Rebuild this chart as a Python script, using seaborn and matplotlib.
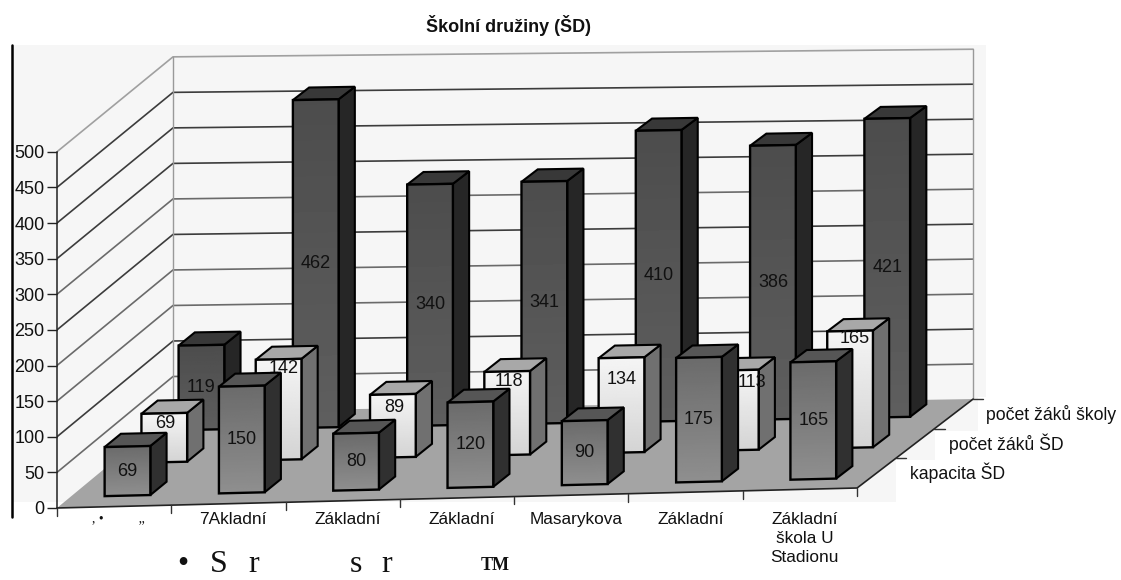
import numpy as np
import pandas as pd
import seaborn as sns
import matplotlib.pyplot as plt
from matplotlib.lines import Line2D
from matplotlib.patches import Polygon
from matplotlib.transforms import Affine2D

# values
schools = [', •          „', '7Akladní', 'Základní', 'Základní', 'Masarykova', 'Základní',
           'Základní\nškola U\nStadionu']
series_names = ['kapacita ŠD', 'počet žáků ŠD', 'počet žáků školy']
kapacita = [69, 150, 80, 120, 90, 175, 165]
pocet_sd = [69, 142, 89, 118, 134, 113, 165]
pocet_skoly = [119, 462, 340, 341, 410, 386, 421]
value_ticks = [0, 50, 100, 150, 200, 250, 300, 350, 400, 450, 500]

W, H = 1121, 580
PX_CAT = 114.3   # px per category
PX_VAL = 0.7125  # px per value unit

# where each row stands in the depth of the box (0 front, 1 back)
depths = [0.115, 0.45, 0.787]
row_dx = [0, -0.018, -0.035]   # small corrections, the scan is not a clean projection
row_dv = [0, 2, 2.5]
row_ds = [0, 0, 0.008]
bar_depth = 0.14
bar_width = 0.40
face_top = [0.42, 0.96, 0.30]     # grey level of the fill, top of the bar
face_bottom = [0.56, 0.83, 0.37]  # and bottom of the bar
side_cols = ['#303030', '#707070', '#262626']
top_cols = ['#565656', '#a8a8a8', '#383838']
# labels on the light row sit near the top of the bar and dodge the front row, in px
light_drop = [10, 9, 13, 10, 22, 13, 8]
light_shift = [1, 5, 1, 2, 0, 16, 5]
# the scan prints some grid lines darker than others, 50 to 500
wall_greys = ['#6a6a6a', '#3c3c3c', '#6a6a6a', '#6a6a6a', '#3c3c3c', '#6a6a6a', '#3c3c3c',
              '#3c3c3c', '#3c3c3c', '#a0a0a0']


def shift_x(d):
    return 116 / PX_CAT * d


def shift_y(d):
    return 134.7 * d


def tilt(d):
    return 4.01 - 1.41 * d


def scale_v(d):
    return 1 - 0.015 * d


def proj(u, d, v, dx=0, dv=0, ds=0):
    return u + shift_x(d) + dx, (scale_v(d) + ds) * v + shift_y(d) + tilt(d) * u + dv


sns.set_theme(style='white')
plt.rcParams['font.family'] = ['Liberation Sans', 'DejaVu Sans']

df = pd.DataFrame({
    'pos': np.arange(len(schools)) + 0.5,
    series_names[0]: kapacita,
    series_names[1]: pocet_sd,
    series_names[2]: pocet_skoly,
})

fig = plt.figure(figsize=(W / 100, H / 100), dpi=100)
fig.patch.set_facecolor('white')

# slightly grey scan background, with the white boxes pasted over the row labels
scan = [(12, 45), (986, 45), (986, 397), (978, 397), (978, 431), (935, 431), (935, 460),
        (896, 460), (896, 502), (12, 502)]
fig.add_artist(Polygon([(x / W, 1 - y / H) for x, y in scan], closed=True, fc='#f6f6f6', ec='none',
                       transform=fig.transFigure, zorder=-5))
fig.add_artist(Line2D([12 / W, 12 / W], [1 - 45 / H, 1 - 517 / H], color='black', lw=1.8))

ax = fig.add_axes([57 / W, (H - 508) / H, (W - 57) / W, 508 / H])
ax.patch.set_alpha(0)

n_cat = len(schools)

# floor
floor = [proj(0, 0, 0), proj(n_cat, 0, 0), proj(n_cat, 1, 0), proj(0, 1, 0)]
ax.add_patch(Polygon(floor, closed=True, fc='#a4a4a4', ec='none', zorder=1))

# grid on the two walls; the back wall gets a bit shorter to the right
for v, col in zip(value_ticks[1:], wall_greys):
    xb0, yb0 = proj(0, 1, v)
    xb1, yb1 = proj(n_cat, 1, v)
    xs = [proj(0, 0, v)[0], xb0, xb1]
    ys = [proj(0, 0, v)[1], yb0 + 0.012 * v, yb1 - 0.003 * v]
    ax.plot(xs, ys, color=col, lw=1.2, zorder=0.5)
for u, k in ((0, 0.012), (n_cat, -0.003)):
    xs, ys = zip(proj(u, 1, 0), proj(u, 1, 500))
    ax.plot(xs, [ys[0], ys[1] + k * 500], color='#999999', lw=1, zorder=0.5)

# floor edges and their small ticks
xs, ys = zip(proj(0, 0, 0), proj(n_cat, 0, 0), proj(n_cat, 1, 0))
ax.plot(xs, ys, color='#222222', lw=1.2, zorder=1.2, clip_on=False)
for u in range(n_cat + 1):
    x0, y0 = proj(u, 0, 0)
    ax.plot([x0, x0], [y0, y0 - 11], color='#333333', lw=1, zorder=1.2, clip_on=False)
for d in (1 / 3, 2 / 3, 1):
    x0, y0 = proj(n_cat, d, 0)
    ax.plot([x0, x0 + 0.09], [y0, y0], color='#333333', lw=1, zorder=1.2)

# rows back to front, each drawn by seaborn and moved into place on the floor
for row in (2, 1, 0):
    d = depths[row]
    z = 2 + (2 - row)
    off = dict(dx=row_dx[row], dv=row_dv[row], ds=row_ds[row])
    vals = df[series_names[row]].to_numpy()
    n_before = len(ax.patches)
    sns.barplot(data=df, x='pos', y=series_names[row], native_scale=True, width=bar_width,
                color='#808080', saturation=1, edgecolor='black', linewidth=1.7,
                errorbar=None, ax=ax, zorder=z + 0.02)
    row_tr = Affine2D(np.array([[1, 0, shift_x(d) + row_dx[row]],
                                [tilt(d), scale_v(d) + row_ds[row], shift_y(d) + row_dv[row]],
                                [0, 0, 1]])) + ax.transData
    shade = np.linspace(face_top[row], face_bottom[row], 64)[:, None]
    for bar in ax.patches[n_before:]:
        bar.set_transform(row_tr)
        bar.set_clip_on(False)
        bar.set_facecolor('none')
        left = bar.get_x()
        right = left + bar.get_width()
        top = bar.get_height()
        ax.imshow(shade, extent=(left, right, 0, top), aspect='auto', cmap='gray', vmin=0, vmax=1,
                  transform=row_tr, zorder=z + 0.01, clip_on=False)
        d2 = d + bar_depth
        side = [proj(right, d, 0, **off), proj(right, d2, 0, **off),
                proj(right, d2, top, **off), proj(right, d, top, **off)]
        lid = [proj(left, d, top, **off), proj(right, d, top, **off),
               proj(right, d2, top, **off), proj(left, d2, top, **off)]
        ax.add_patch(Polygon(side, closed=True, fc=side_cols[row], ec='black', lw=1.5, zorder=z))
        ax.add_patch(Polygon(lid, closed=True, fc=top_cols[row], ec='black', lw=1.5, zorder=z))
    for i, (u, v) in enumerate(zip(df['pos'], vals)):
        if row == 1:
            x_lab = u + light_shift[i] / PX_CAT
            y_lab = v - light_drop[i] / PX_VAL
        else:
            x_lab, y_lab = u, v / 2
        ax.text(x_lab, y_lab, str(v), transform=row_tr, ha='center', va='center', fontsize=13,
                color='#111111', zorder=z + 0.1)

ax.set_xlim(0, (W - 57) / PX_CAT)
ax.set_ylim(0, 508 / PX_VAL)
ax.set_xlabel('')
ax.set_ylabel('')

for name in ('top', 'right', 'bottom'):
    ax.spines[name].set_visible(False)
ax.spines['left'].set_bounds(0, 500)
ax.spines['left'].set_color('#222222')
ax.spines['left'].set_linewidth(1.1)

ax.set_yticks(value_ticks)
ax.tick_params(axis='y', left=True, length=7, width=1, color='#222222', labelsize=13, pad=2,
               labelcolor='#111111')
ax.set_xticks(df['pos'] + 0.04, schools, ha='center', va='top', linespacing=1.35)
ax.tick_params(axis='x', bottom=False, length=0, labelsize=12.4, pad=2.7, labelcolor='#111111')
first = ax.get_xticklabels()[0]
first.set_fontfamily('Liberation Serif')
first.set_fontsize(10)

# title and the row names along the right edge of the floor
fig.text(509 / W, 1 - 26 / H, 'Školní družiny (ŠD)', ha='center', va='center', fontsize=13,
         fontweight='bold', color='#111111')
for name, x_px, y_px in zip(series_names, (910, 949, 986), (473, 444, 415)):
    fig.text(x_px / W, 1 - y_px / H, name, ha='left', va='center', fontsize=12.7, color='#111111')

# OCR leftovers under the chart
for s, x_px in zip(['•', 'S', 'r', 's', 'r'], (183, 219, 254, 356, 387)):
    fig.text(x_px / W, 1 - 572 / H, s, ha='center', va='baseline', fontsize=23,
             family='Liberation Serif', color='#111111')
fig.text(495 / W, 1 - 570 / H, 'TM', ha='center', va='baseline', fontsize=13, fontweight='bold',
         family='Liberation Serif', color='#111111')

fig.savefig('out.png', dpi=100)
